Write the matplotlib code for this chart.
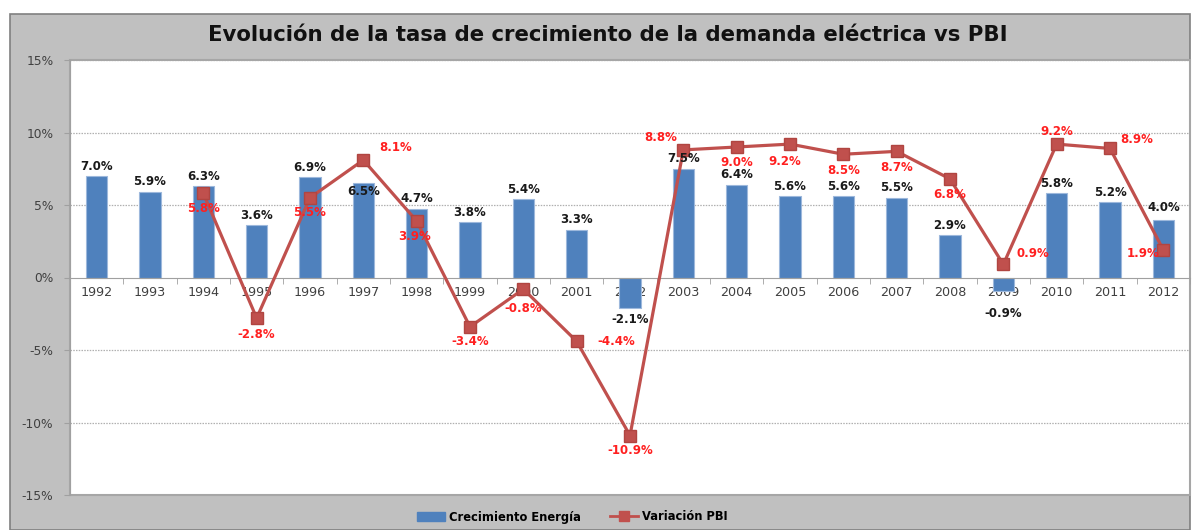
import numpy as np
import matplotlib
matplotlib.use("Agg")
import matplotlib.pyplot as plt
from matplotlib.patches import Rectangle
from matplotlib.lines import Line2D
from matplotlib.patches import Patch

years = ["1992", "1993", "1994", "1995", "1996", "1997", "1998", "1999", "2000", "2001",
         "2002", "2003", "2004", "2005", "2006", "2007", "2008", "2009", "2010", "2011", "2012"]
energia = [7.0, 5.9, 6.3, 3.6, 6.9, 6.5, 4.7, 3.8, 5.4, 3.3,
           -2.1, 7.5, 6.4, 5.6, 5.6, 5.5, 2.9, -0.9, 5.8, 5.2, 4.0]
pbi = [np.nan, np.nan, 5.8, -2.8, 5.5, 8.1, 3.9, -3.4, -0.8, -4.4,
       -10.9, 8.8, 9.0, 9.2, 8.5, 8.7, 6.8, 0.9, 9.2, 8.9, 1.9]

title = "Evolución de la tasa de crecimiento de la demanda eléctrica vs PBI"
label_energia = "Crecimiento Energía"
label_pbi = "Variación PBI"

# label placement offsets (pixels)
energia_off = [10, 10, 10, 10, 10, -8, 11, 10, 10, 10,
               -12, 10, 10, 10, 10, 10, 10, -23, 10, 10, 12]
pbi_off = [(0, 0), (0, 0), (0, -15), (0, -16), (0, -15), (32, 13), (-2, -16), (0, -15),
           (0, -19), (40, 0), (0, -15), (-23, 12), (0, -16), (-5, -17), (0, -16),
           (0, -16), (0, -16), (30, 11), (0, 13), (27, 9), (-20, -4)]

W, H = 1195, 530
fig = plt.figure(figsize=(W / 100, H / 100), dpi=100)
fig.patch.set_facecolor("white")
fig.patches.append(Rectangle((10 / W, 0), 1180 / W, (H - 14) / H, transform=fig.transFigure,
                             facecolor="#c0c0c0", edgecolor="#808080", linewidth=1.2, zorder=-10))

ax = fig.add_axes([70 / W, 35 / H, 1120 / W, 435 / H])
ax.set_facecolor("white")
x = np.arange(len(years))

ax.set_ylim(-15, 15)
ax.set_xlim(-0.5, len(years) - 0.5)
ax.set_yticks([-15, -10, -5, 0, 5, 10, 15])
ax.set_yticklabels([f"{v}%" for v in [-15, -10, -5, 0, 5, 10, 15]])
for v in [-10, -5, 5, 10, 15]:
    ax.axhline(v, color="#b0b0b0", linestyle=(0, (1.2, 1.0)), linewidth=0.9, zorder=0)

ax.bar(x, energia, width=0.4, color="#4F81BD", edgecolor="#9db8dc", linewidth=0.8, zorder=2)
ax.plot(x, pbi, color="#C0504D", linewidth=2.3, marker="s", markersize=8.5,
        markerfacecolor="#C0504D", markeredgecolor="#b04541", zorder=4)

for i, v in enumerate(energia):
    ax.annotate(f"{v:.1f}%", (x[i], v), xytext=(0, energia_off[i]), textcoords="offset pixels",
                ha="center", va="center", fontsize=8.5, fontweight="bold", color="#1a1a1a", zorder=5)
for i, v in enumerate(pbi):
    if np.isnan(v):
        continue
    dx, dy = pbi_off[i]
    ax.annotate(f"{v:.1f}%", (x[i], v), xytext=(dx, dy), textcoords="offset pixels",
                ha="center", va="center", fontsize=8.5, fontweight="bold", color="#ff2020", zorder=5)

# spines
for s in ["top", "right"]:
    ax.spines[s].set_visible(False)
ax.spines["left"].set_color("#a0a0a0")
ax.spines["bottom"].set_position(("data", 0))
ax.spines["bottom"].set_color("#a0a0a0")
ax.add_patch(Rectangle((0, 0), 1, 1, transform=ax.transAxes, fill=False,
                       edgecolor="#a6a6a6", linewidth=1.5, clip_on=False, zorder=1))

ax.set_xticks(x)
ax.set_xticklabels(years)
ax.set_xticks(np.arange(-0.5, len(years), 1.0), minor=True)
ax.tick_params(axis="x", which="major", length=0, pad=6, labelsize=9.2, labelcolor="#404040")
ax.tick_params(axis="x", which="minor", length=4, direction="out", color="#a0a0a0")
ax.tick_params(axis="y", length=4, direction="out", color="#a0a0a0", labelsize=8.8,
               labelcolor="#404040", pad=8)

fig.text(608 / W, 1 - 35 / H, title, ha="center", va="center", fontsize=15.3,
         fontweight="bold", color="#111111")

handles = [Patch(facecolor="#4F81BD", edgecolor="#4F81BD"),
           Line2D([0], [0], color="#C0504D", linewidth=2, marker="s", markersize=7)]
leg = fig.legend(handles, [label_energia, label_pbi], loc="center", bbox_to_anchor=(572 / W, 13 / H),
                 ncol=2, frameon=False, prop={"size": 8.3, "weight": "bold"},
                 handlelength=2.5, columnspacing=2.5, handletextpad=0.3)

fig.savefig("out.png", dpi=100)
